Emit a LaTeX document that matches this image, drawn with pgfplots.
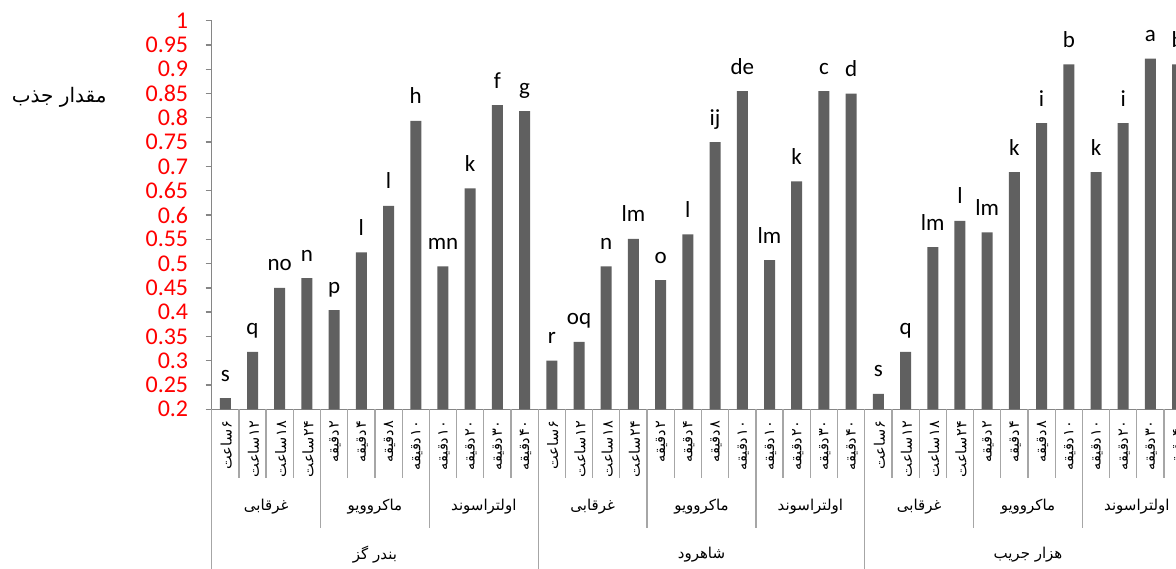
\documentclass[border=0pt]{standalone}
\usepackage{pgfplots}
\usepackage{pgfplotstable}
\pgfplotsset{compat=1.18}
\usepackage{fontspec}
\setmainfont{Carlito}
\newfontfamily\af[Script=Arabic]{DejaVu Sans}

\definecolor{barfill}{RGB}{96,96,96}
\definecolor{axisgray}{RGB}{134,134,134}
\definecolor{sepgray}{RGB}{166,166,166}

% Persian category label: number followed by unit, set right to left
\newcommand{\cat}[2]{{\af\beginR #1\kern1.5pt #2\endR}}
\newcommand{\fa}[1]{{\af\beginR #1\endR}}

% absorption values with their significance letters
\pgfplotstableread{
idx val lab
0 0.223 s
1 0.318 q
2 0.450 no
3 0.470 n
4 0.404 p
5 0.523 l
6 0.619 l
7 0.794 h
8 0.494 mn
9 0.655 k
10 0.826 f
11 0.814 g
12 0.300 r
13 0.339 oq
14 0.494 n
15 0.551 lm
16 0.466 o
17 0.560 l
18 0.750 ij
19 0.855 de
20 0.507 lm
21 0.669 k
22 0.855 c
23 0.850 d
24 0.232 s
25 0.318 q
26 0.534 lm
27 0.588 l
28 0.564 lm
29 0.688 k
30 0.789 i
31 0.910 b
32 0.688 k
33 0.789 i
34 0.922 a
35 0.910 b
}\absorb

\begin{document}
\TeXXeTstate=1
\begin{tikzpicture}
\path[use as bounding box] (-211.7pt,-159.7pt) rectangle (964.3pt,409.3pt);
\clip (-211.7pt,-159.7pt) rectangle (964.3pt,409.3pt);
\begin{axis}[
  x=27.21pt, y=485.75pt,
  xmin=-0.5, xmax=35.5, ymin=0.2, ymax=1,
  axis x line*=bottom, axis y line*=left,
  axis line style={draw=axisgray, line width=1.3pt, -},
  ytick={0.2,0.25,0.3,0.35,0.4,0.45,0.5,0.55,0.6,0.65,0.7,0.75,0.8,0.85,0.9,0.95,1},
  ytick align=outside, major tick length=6pt,
  ytick style={draw=axisgray, line width=1.3pt},
  yticklabel style={text=red, font=\fontsize{24}{24}\selectfont, xshift=-14pt},
  /pgf/number format/assume math mode=true,
  xtick={0,...,35},
  xtick style={draw=none},
  xticklabels={
    \cat{۶}{ساعت},\cat{۱۲}{ساعت},\cat{۱۸}{ساعت},\cat{۲۴}{ساعت},
    \cat{۲}{دقیقه},\cat{۴}{دقیقه},\cat{۸}{دقیقه},\cat{۱۰}{دقیقه},
    \cat{۱۰}{دقیقه},\cat{۲۰}{دقیقه},\cat{۳۰}{دقیقه},\cat{۴۰}{دقیقه},
    \cat{۶}{ساعت},\cat{۱۲}{ساعت},\cat{۱۸}{ساعت},\cat{۲۴}{ساعت},
    \cat{۲}{دقیقه},\cat{۴}{دقیقه},\cat{۸}{دقیقه},\cat{۱۰}{دقیقه},
    \cat{۱۰}{دقیقه},\cat{۲۰}{دقیقه},\cat{۳۰}{دقیقه},\cat{۴۰}{دقیقه},
    \cat{۶}{ساعت},\cat{۱۲}{ساعت},\cat{۱۸}{ساعت},\cat{۲۴}{ساعت},
    \cat{۲}{دقیقه},\cat{۴}{دقیقه},\cat{۸}{دقیقه},\cat{۱۰}{دقیقه},
    \cat{۱۰}{دقیقه},\cat{۲۰}{دقیقه},\cat{۳۰}{دقیقه},\cat{۴۰}{دقیقه}},
  xticklabel style={yshift=-5pt, xshift=1pt, rotate=90, anchor=east,
    inner sep=0pt, font=\fontsize{14.5}{14.5}\selectfont},
  ybar, bar width=11pt,
  clip mode=individual,
]
\addplot[fill=barfill, draw=none,
  nodes near coords, point meta=explicit symbolic,
  every node near coord/.append style={anchor=base, yshift=17pt,
    text=black, font=\fontsize{23}{23}\selectfont}]
  table[x=idx, y=val, meta=lab] {\absorb};

% category separators under the axis
\pgfplotsinvokeforeach{-0.5,0.5,...,35.5}{
  \draw[sepgray, line width=1.3pt] (axis cs:#1,0.2) -- ++(0pt,-69pt);}
\pgfplotsinvokeforeach{3.5,7.5,15.5,19.5,27.5,31.5}{
  \draw[sepgray, line width=1.3pt] (axis cs:#1,0.2) -- ++(0pt,-119pt);}
\pgfplotsinvokeforeach{-0.5,11.5,23.5,35.5}{
  \draw[sepgray, line width=1.3pt] (axis cs:#1,0.2) -- ++(0pt,-170pt);}

% method labels
\pgfplotsinvokeforeach{1.5,13.5,25.5}{
  \node[font=\fontsize{15}{15}\selectfont, yshift=-97.7pt] at (axis cs:#1,0.2) {\fa{غرقابی}};}
\pgfplotsinvokeforeach{5.5,17.5,29.5}{
  \node[font=\fontsize{15}{15}\selectfont, yshift=-97.7pt] at (axis cs:#1,0.2) {\fa{ماکروویو}};}
\pgfplotsinvokeforeach{9.5,21.5,33.5}{
  \node[font=\fontsize{15}{15}\selectfont, yshift=-97.7pt] at (axis cs:#1,0.2) {\fa{اولتراسوند}};}

% region labels
\node[font=\fontsize{15}{15}\selectfont, yshift=-145.7pt] at (axis cs:5.5,0.2) {\fa{بندر گز}};
\node[font=\fontsize{15}{15}\selectfont, yshift=-145.7pt] at (axis cs:17.5,0.2) {\fa{شاهرود}};
\node[font=\fontsize{15}{15}\selectfont, yshift=-145.7pt] at (axis cs:29.5,0.2) {\fa{هزار جریب}};

% axis title
\node[font=\fontsize{20}{20}\selectfont, xshift=-152.5pt] at (axis cs:-0.5,0.843) {\fa{مقدار جذب}};
\end{axis}
\end{tikzpicture}
\end{document}
